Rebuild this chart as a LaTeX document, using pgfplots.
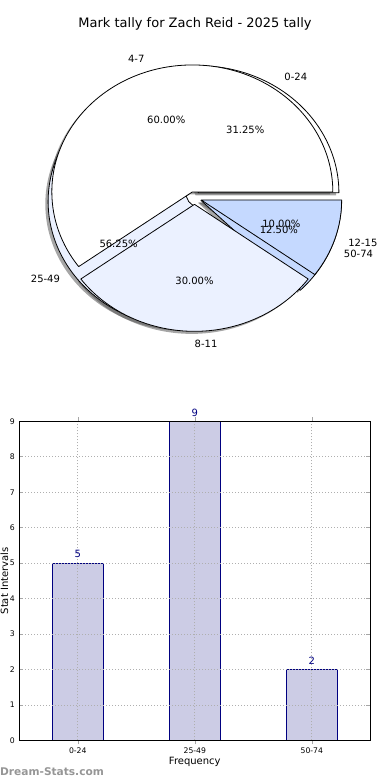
\documentclass[border=0pt]{standalone}
\usepackage{fontspec}
\setmainfont{DejaVu Sans}
\usepackage{pgfplots}
\pgfplotsset{compat=1.18}
\definecolor{pw}{RGB}{255,255,255}
\definecolor{pl}{RGB}{235,241,255}
\definecolor{pm}{RGB}{197,217,255}
\definecolor{shadowc}{RGB}{77,77,77}
\definecolor{navyc}{RGB}{0,0,128}
\definecolor{barfill}{RGB}{204,204,229}
\definecolor{wm}{RGB}{150,150,150}
\definecolor{gridc}{RGB}{175,175,175}

% #1 cumulative start, #2 value, #3 total
\newcommand{\pieShadow}[3]{%
 \fill[shadowc, opacity=0.5]
  ({0.05*cos(360*(#1+#2/2)/#3)-0.02+cos(360*#1/#3)},{0.05*sin(360*(#1+#2/2)/#3)-0.02+sin(360*#1/#3)})
  arc[start angle={360*#1/#3}, end angle={360*(#1+#2)/#3}, x radius=1, y radius=1]
  -- ({0.05*cos(360*(#1+#2/2)/#3)-0.02},{0.05*sin(360*(#1+#2/2)/#3)-0.02}) -- cycle;}
\newcommand{\pieWedge}[4]{%
 \filldraw[fill=#4, draw=black, line width=0.8pt, line join=round]
  ({0.05*cos(360*(#1+#2/2)/#3)+cos(360*#1/#3)},{0.05*sin(360*(#1+#2/2)/#3)+sin(360*#1/#3)})
  arc[start angle={360*#1/#3}, end angle={360*(#1+#2)/#3}, x radius=1, y radius=1]
  -- ({0.05*cos(360*(#1+#2/2)/#3)},{0.05*sin(360*(#1+#2/2)/#3)}) -- cycle;}
\newcommand{\pieLabel}[5]{%
 \node[anchor=#5, inner sep=0pt] at ({1.15*cos(360*(#1+#2/2)/#3)},{1.15*sin(360*(#1+#2/2)/#3)}) {#4};}
\newcommand{\piePct}[4]{%
 \node[inner sep=0pt] at ({0.65*cos(360*(#1+#2/2)/#3)},{0.65*sin(360*(#1+#2/2)/#3)}) {#4};}

\begin{document}
\begin{tikzpicture}
\useasboundingbox (0pt,0pt) rectangle (390pt,780pt);
% ---------------- pie chart ----------------
\begin{axis}[
  at={(0pt,390pt)}, anchor=south west,
  scale only axis, width=390pt, height=390pt,
  xmin=-1.38434, xmax=1.39146, ymin=-1.51181, ymax=1.55906,
  hide axis, clip=false,
  title={Mark tally for Zach Reid - 2025 tally},
  title style={at={(axis description cs:0.5,0.9146)}, anchor=base, font=\fontsize{13}{15}\selectfont},
  every node/.append style={font=\fontsize{10}{12}\selectfont},
]
% shadows: pie A (0-24, 25-49, 50-74) = 5, 9, 2 ; pie B (4-7, 8-11, 12-15) = 6, 3, 1
\pieShadow{0}{5}{16}
\pieShadow{5}{9}{16}
\pieShadow{14}{2}{16}
\pieShadow{0}{6}{10}
\pieShadow{6}{3}{10}
\pieShadow{9}{1}{10}
% wedges pie A
\pieWedge{0}{5}{16}{pw}
\pieWedge{5}{9}{16}{pl}
\pieWedge{14}{2}{16}{pm}
% wedges pie B
\pieWedge{0}{6}{10}{pw}
\pieWedge{6}{3}{10}{pl}
\pieWedge{9}{1}{10}{pm}
% labels
\pieLabel{0}{5}{16}{0-24}{west}
\pieLabel{5}{9}{16}{25-49}{east}
\pieLabel{14}{2}{16}{50-74}{west}
\piePct{0}{5}{16}{31.25\%}
\piePct{5}{9}{16}{56.25\%}
\piePct{14}{2}{16}{12.50\%}
\pieLabel{0}{6}{10}{4-7}{east}
\pieLabel{6}{3}{10}{8-11}{west}
\pieLabel{9}{1}{10}{12-15}{west}
\piePct{0}{6}{10}{60.00\%}
\piePct{6}{3}{10}{30.00\%}
\piePct{9}{1}{10}{10.00\%}
\end{axis}
% ---------------- bar chart ----------------
\begin{axis}[
  at={(19.3pt,39.7pt)}, anchor=south west,
  scale only axis, width=351pt, height=319pt,
  xmin=-0.5, xmax=2.5, ymin=0, ymax=9,
  xtick={0,1,2}, xticklabels={0-24,25-49,50-74},
  ytick={0,1,...,9},
  /pgf/number format/assume math mode=true,
  ticklabel style={font=\fontsize{7.7}{9}\selectfont},
  yticklabel style={xshift=-1pt},
  axis on top,
  grid=major, grid style={gridc, line width=0.7pt, dash pattern=on 0.8pt off 2.2pt},
  tick align=inside, major tick length=4pt, tick style={gray!70, line width=0.6pt},
  axis line style={line width=1pt},
  ybar, bar width=0.44,
  xlabel={Frequency}, ylabel={Stat Intervals},
  label style={font=\fontsize{10.5}{12}\selectfont},
  every axis x label/.style={at={(axis description cs:0.5,0)}, anchor=base, yshift=-23.7pt},
  every axis y label/.style={at={(axis description cs:-0.0319,0.5)}, rotate=90, anchor=base},
  nodes near coords,
  every node near coord/.append style={anchor=base, yshift=5.3pt, text=navyc, font=\fontsize{10}{12}\selectfont},
]
\addplot[draw=navyc, fill=barfill, line width=1pt] table {
x y
0 5
1 9
2 2
};
\end{axis}
\node[anchor=base west, inner sep=0pt, text=wm, font=\bfseries\fontsize{10.6}{12}\selectfont] at (0pt,5pt) {Dream-Stats.com};
\end{tikzpicture}
\end{document}
